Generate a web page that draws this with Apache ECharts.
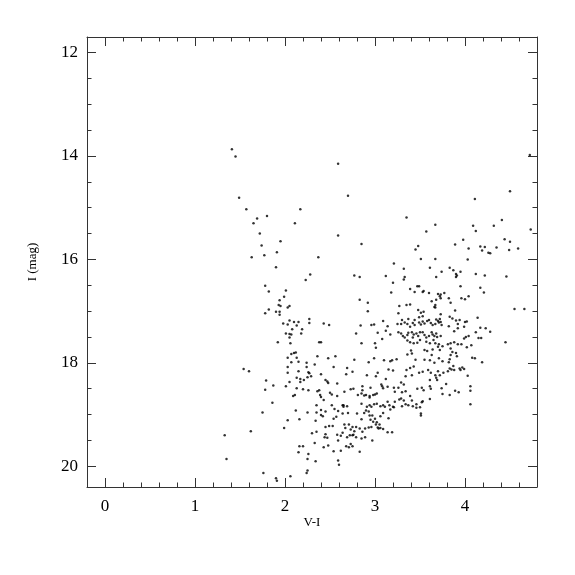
<!DOCTYPE html>
<html>
<head>
<meta charset="utf-8">
<script src="https://cdn.jsdelivr.net/npm/echarts@6/dist/echarts.min.js"></script>
<style>html,body{margin:0;padding:0;background:#fff}#c{width:575px;height:575px}</style>
</head>
<body>
<div id="c"></div>
<script>
// V-I colour and I magnitude for each star
const points = [
// upper / blue side
[1.41,13.87],[1.45,14.01],[2.59,14.15],[2.70,14.77],[1.49,14.81],[1.57,15.03],[2.17,15.03],[1.80,15.16],[1.69,15.21],[1.65,15.30],[2.11,15.30],[1.72,15.50],[2.59,15.54],[1.95,15.65],[2.85,15.70],[1.74,15.73],[1.91,15.86],[1.77,15.92],[1.63,15.96],[2.37,15.96],[1.90,16.15],[2.28,16.29],[2.77,16.31],[2.83,16.34],[2.23,16.40],[1.78,16.51],[1.82,16.62],[2.01,16.60],[1.99,16.72],[1.94,16.79],[2.83,16.78],
// middle / lower part, V-I below 3
[1.82,16.97],[1.93,16.88],[1.95,16.90],[2.03,16.93],[2.05,16.90],[1.78,17.04],[1.90,17.01],[1.94,17.01],[1.94,17.07],[2.92,16.84],[2.92,17.00],[1.98,17.24],[2.05,17.18],[2.03,17.26],[2.10,17.21],[2.15,17.21],[2.13,17.28],[2.27,17.15],[2.27,17.23],[2.08,17.35],[2.19,17.35],[2.01,17.43],[2.05,17.44],[2.07,17.45],[2.18,17.43],[2.05,17.51],[2.43,17.24],[2.49,17.27],[2.84,17.28],[2.79,17.43],[1.92,17.60],[2.06,17.62],[2.38,17.60],[2.40,17.60],[2.85,17.62],[2.07,17.83],[2.10,17.81],[2.12,17.80],[2.03,17.90],[2.13,17.90],[2.15,17.98],[2.36,17.87],[2.48,17.91],[2.56,17.87],[2.77,17.94],[2.93,17.99],[2.07,17.99],[2.24,18.00],[2.24,18.08],[2.33,18.03],[2.54,18.08],[2.69,18.10],[2.03,18.08],[2.03,18.19],[2.15,18.16],[2.26,18.18],[2.27,18.20],[2.25,18.28],[2.29,18.26],[2.40,18.22],[2.68,18.22],[2.75,18.17],[2.91,18.24],[1.54,18.12],[1.60,18.16],[1.79,18.34],[1.87,18.44],[1.78,18.52],[2.05,18.37],[2.13,18.29],[2.17,18.31],[2.17,18.37],[2.21,18.33],[2.01,18.45],[2.13,18.49],[2.20,18.51],[2.26,18.53],[2.36,18.55],[2.38,18.53],[2.45,18.33],[2.47,18.36],[2.48,18.39],[2.58,18.40],[2.73,18.51],[2.76,18.50],[2.86,18.45],[2.86,18.53],[2.50,18.58],[2.52,18.61],[2.58,18.64],[2.66,18.56],[2.09,18.64],[2.11,18.62],[2.39,18.62],[2.40,18.66],[2.43,18.72],[2.81,18.62],[2.85,18.59],[2.88,18.63],[2.90,18.62],[1.86,18.77],[1.75,18.96],[2.12,18.92],[2.25,18.96],[2.35,18.82],[2.35,18.96],[2.40,18.91],[2.45,18.94],[2.42,19.03],[2.40,19.01],[2.52,18.82],[2.55,18.89],[2.57,19.04],[2.54,19.08],[2.59,18.93],[2.64,18.82],[2.65,18.82],[2.65,18.85],[2.69,18.84],[2.64,18.98],[2.70,18.97],[2.80,18.98],[2.85,18.79],[2.91,18.85],[2.90,18.92],[2.93,18.94],[2.88,18.97],[2.85,19.09],[2.03,19.11],[1.99,19.26],[2.16,19.09],[2.34,19.12],[1.62,19.32],[1.33,19.40],[1.35,19.86],[2.30,19.36],[2.35,19.33],[2.45,19.24],[2.49,19.22],[2.53,19.22],[2.44,19.44],[2.47,19.45],[2.43,19.63],[2.48,19.60],[2.45,19.38],[2.58,19.39],[2.59,19.50],[2.62,19.41],[2.64,19.35],[2.66,19.19],[2.67,19.26],[2.71,19.19],[2.73,19.29],[2.75,19.24],[2.77,19.32],[2.72,19.40],[2.75,19.40],[2.76,19.39],[2.79,19.24],[2.83,19.27],[2.86,19.33],[2.89,19.27],[2.93,19.25],[2.68,19.61],[2.71,19.63],[2.73,19.57],[2.75,19.61],[2.69,19.44],[2.79,19.44],[2.85,19.46],[2.89,19.44],[2.16,19.61],[2.20,19.61],[2.15,19.73],[2.26,19.76],[2.25,19.86],[2.34,19.90],[2.54,19.71],[2.62,19.70],[2.83,19.72],[2.59,19.89],[2.60,19.97],[2.33,19.55],[1.76,20.13],[1.90,20.23],[1.91,20.28],[2.06,20.19],[2.24,20.13],[2.25,20.08],
[2.99,17.26],[2.96,17.27],[2.99,17.91],[2.95,18.48],[2.98,18.62],[2.94,18.64],[2.94,18.67],[2.94,18.82],[2.96,18.85],[2.99,18.80],[2.94,19.02],[2.97,19.02],[2.95,19.10],[2.98,19.14],[2.96,19.24],[2.97,19.50],
// red side, upper part
[4.72,13.98],[4.50,14.68],[4.11,14.83],[3.35,15.19],[3.67,15.33],[4.41,15.24],[4.32,15.35],[4.09,15.35],[4.12,15.45],[3.57,15.46],[4.73,15.42],[3.98,15.62],[4.44,15.61],[4.50,15.66],[3.48,15.74],[3.45,15.81],[3.89,15.71],[4.04,15.79],[4.17,15.75],[4.22,15.76],[4.19,15.83],[4.26,15.87],[4.28,15.88],[4.35,15.77],[4.49,15.82],[4.59,15.79],[3.51,15.99],[3.67,15.99],[4.03,16.00],[3.21,16.08],[3.61,16.16],[3.32,16.18],[3.83,16.16],[3.87,16.21],[3.74,16.24],[3.12,16.32],[3.33,16.34],[3.32,16.39],[3.68,16.34],[3.90,16.28],[3.91,16.31],[3.90,16.34],[3.95,16.24],[4.12,16.28],[4.22,16.31],[4.46,16.33],[3.20,16.45],[3.47,16.52],[3.49,16.52],[3.95,16.52],[4.17,16.55],[3.39,16.57],[3.18,16.64],[3.44,16.63],[3.53,16.63],[3.54,16.61],[3.60,16.65],[3.70,16.67],[3.72,16.71],[3.73,16.68],[3.77,16.65],[4.21,16.64],[3.82,16.75],[3.68,16.78],[3.73,16.75],[3.96,16.75],[4.00,16.77],[4.04,16.71],
// red side, dense clump
[4.55,16.96],[4.66,16.96],[3.27,16.90],[3.35,16.88],[3.39,16.87],[3.48,16.98],[3.51,17.03],[3.54,17.01],[3.53,17.10],[3.49,17.12],[3.63,16.81],[3.66,16.92],[3.67,16.93],[3.67,16.88],[3.84,16.84],[3.89,16.99],[3.73,17.06],[3.26,17.04],[3.25,17.25],[3.30,17.17],[3.29,17.25],[3.33,17.22],[3.37,17.15],[3.42,17.23],[3.39,17.30],[3.36,17.25],[3.44,17.17],[3.44,17.27],[3.49,17.22],[3.51,17.26],[3.53,17.20],[3.55,17.24],[3.58,17.19],[3.60,17.17],[3.62,17.23],[3.64,17.27],[3.67,17.25],[3.68,17.16],[3.70,17.19],[3.72,17.15],[3.71,17.22],[3.73,17.21],[3.74,17.27],[3.83,17.11],[3.86,17.14],[3.90,17.18],[3.94,17.17],[4.00,17.21],[4.02,17.20],[4.14,17.13],[3.82,17.29],[3.92,17.33],[3.88,17.39],[3.99,17.30],[3.92,17.25],[4.17,17.32],[4.23,17.33],[4.28,17.40],[4.12,17.41],[4.15,17.52],[4.18,17.52],[4.45,17.60],[4.01,17.50],[4.04,17.48],[3.99,17.53],[3.03,17.42],[3.12,17.38],[3.08,17.54],[3.00,17.62],[3.01,17.71],[3.26,17.41],[3.29,17.43],[3.31,17.48],[3.33,17.51],[3.36,17.46],[3.37,17.42],[3.41,17.41],[3.43,17.45],[3.42,17.51],[3.46,17.43],[3.48,17.48],[3.50,17.41],[3.53,17.41],[3.55,17.46],[3.57,17.51],[3.60,17.48],[3.63,17.41],[3.64,17.45],[3.66,17.48],[3.68,17.43],[3.69,17.50],[3.73,17.48],[3.36,17.57],[3.39,17.60],[3.43,17.62],[3.47,17.61],[3.50,17.56],[3.57,17.59],[3.61,17.62],[3.65,17.56],[3.67,17.62],[3.71,17.64],[3.75,17.68],[3.81,17.64],[3.84,17.62],[3.88,17.60],[3.92,17.64],[3.96,17.64],[4.02,17.70],[4.07,17.66],[3.40,17.76],[3.41,17.82],[3.55,17.75],[3.58,17.77],[3.64,17.74],[3.70,17.69],[3.72,17.75],[3.84,17.72],[3.86,17.79],[3.90,17.81],[3.36,17.84],[3.45,17.94],[3.55,17.94],[3.61,17.95],[3.63,17.85],[3.66,18.00],[3.71,17.91],[3.75,17.97],[3.84,17.85],[3.83,17.93],[3.82,17.99],[3.91,17.87],[4.08,17.90],[4.11,17.91],[4.19,17.99],[3.10,17.95],[3.17,17.97],[3.19,17.95],[3.24,17.93],[3.01,18.26],[3.03,18.19],[3.12,18.31],[3.15,18.13],[3.20,18.15],[3.35,18.14],[3.39,18.10],[3.43,18.07],[3.41,18.24],[3.34,18.26],[3.49,18.19],[3.53,18.17],[3.59,18.14],[3.62,18.19],[3.61,18.33],[3.67,18.24],[3.68,18.29],[3.69,18.33],[3.70,18.16],[3.72,18.24],[3.76,18.19],[3.81,18.16],[3.83,18.11],[3.85,18.13],[3.87,18.06],[3.88,18.14],[3.94,18.11],[3.95,18.14],[3.97,18.09],[3.99,18.12],[4.03,18.25],[3.07,18.42],[3.08,18.45],[3.29,18.38],[3.32,18.42],[3.26,18.48],[3.30,18.57],[3.34,18.55],[3.47,18.50],[3.52,18.48],[3.54,18.53],[3.61,18.45],[3.62,18.50],[3.74,18.49],[3.75,18.60],[3.83,18.62],[3.89,18.54],[3.93,18.57],[4.06,18.45],[4.06,18.54],[3.79,18.41],[3.00,18.61],[3.02,18.59],[3.09,18.49],[3.14,18.46],[3.21,18.48],[3.22,18.56],[3.27,18.71],[3.29,18.69],[3.32,18.73],[3.34,18.80],[3.30,18.84],[3.39,18.64],[3.41,18.73],[3.37,18.82],[3.42,18.84],[3.46,18.80],[3.46,18.87],[3.50,18.86],[3.52,18.76],[3.53,18.74],[3.61,18.70],[3.51,18.98],[3.51,19.02],[4.06,18.80],[3.02,18.79],[3.06,18.84],[3.09,18.82],[3.11,18.85],[3.14,18.75],[3.16,18.82],[3.17,18.90],[3.20,18.85],[3.21,18.86],[3.22,18.75],[3.00,19.08],[3.02,19.15],[3.05,19.19],[3.03,19.25],[3.04,19.27],[3.06,19.26],[3.09,19.28],[3.01,19.19],[3.09,18.97],[3.06,19.03],[3.15,19.07],[3.14,19.34],[3.19,19.34],
[3.09,17.19],[3.14,17.29],[3.17,17.45]
];
const viColour = points.map(p => p[0]);
const iMagnitude = points.map(p => p[1]);

const xMajorTicks = [0, 1, 2, 3, 4];
const xMinorTicks = [0.2,0.4,0.6,0.8,1.2,1.4,1.6,1.8,2.2,2.4,2.6,2.8,3.2,3.4,3.6,3.8,4.2,4.4,4.6];
const yMajorTicks = [12, 14, 16, 18, 20];
const yMinorTicks = [12.5,13,13.5,14.5,15,15.5,16.5,17,17.5,18.5,19,19.5];

const FONT = 'Liberation Serif';
const LINE = '#333';
const rect = {left: 87, right: 38, top: 37, bottom: 88};

function pickLabel(list) {
  return function (v) {
    for (const t of list) { if (Math.abs(v - t) < 1e-6) return String(t); }
    return '';
  };
}

function xAx(gi, pos, ticks, len, withLabels, withLine) {
  return {
    type: 'value', gridIndex: gi, position: pos, min: -0.2, max: 4.8, interval: 0.2,
    axisLine: {show: withLine, onZero: false, lineStyle: {color: LINE, width: 1}},
    axisTick: {show: true, inside: true, length: len, customValues: ticks, lineStyle: {color: LINE, width: 1}},
    axisLabel: withLabels ? {show: true, interval: 0, hideOverlap: false, formatter: pickLabel(xMajorTicks),
      fontFamily: FONT, fontSize: 17, color: '#000', margin: 11} : {show: false},
    splitLine: {show: false}
  };
}
function yAx(gi, pos, ticks, len, withLabels, withLine) {
  return {
    type: 'value', gridIndex: gi, position: pos, min: 11.7, max: 20.4, interval: 0.1, inverse: true,
    axisLine: {show: withLine, onZero: false, lineStyle: {color: LINE, width: 1}},
    axisTick: {show: true, inside: true, length: len, customValues: ticks, lineStyle: {color: LINE, width: 1}},
    axisLabel: withLabels ? {show: true, interval: 0, hideOverlap: false, formatter: pickLabel(yMajorTicks),
      fontFamily: FONT, fontSize: 17, color: '#000', margin: 9} : {show: false},
    splitLine: {show: false}
  };
}

const xAxes = [
  Object.assign(xAx(0, 'bottom', xMajorTicks, 9, true, true), {name: 'V-I', nameLocation: 'middle', nameGap: 29, nameMoveOverlap: false, nameTextStyle: {fontFamily: FONT, fontSize: 13, color: '#000'}}),
  xAx(1, 'bottom', xMinorTicks, 4.5, false, false),
  xAx(2, 'top', xMajorTicks, 9, false, true),
  xAx(3, 'top', xMinorTicks, 4.5, false, false)
];
const yAxes = [
  Object.assign(yAx(0, 'left', yMajorTicks, 9, true, true), {name: 'I (mag)', nameLocation: 'middle', nameGap: 48, nameRotate: 90, nameMoveOverlap: false, nameTextStyle: {fontFamily: FONT, fontSize: 13, color: '#000'}}),
  yAx(1, 'left', yMinorTicks, 4.5, false, false),
  yAx(2, 'right', yMajorTicks, 9, false, true),
  yAx(3, 'right', yMinorTicks, 4.5, false, false)
];

const chart = echarts.init(document.getElementById('c'), null, {renderer: 'canvas'});
chart.setOption({
  backgroundColor: '#fff',
  animation: false,
  grid: [0, 1, 2, 3].map(() => Object.assign({containLabel: false}, rect)),
  xAxis: xAxes,
  yAxis: yAxes,
  series: [{
    type: 'scatter', xAxisIndex: 0, yAxisIndex: 0,
    data: viColour.map((v, i) => [v, iMagnitude[i]]),
    symbol: 'circle', symbolSize: 2.5,
    itemStyle: {color: '#000'},
    silent: true
  }]
});
</script>
</body>
</html>
